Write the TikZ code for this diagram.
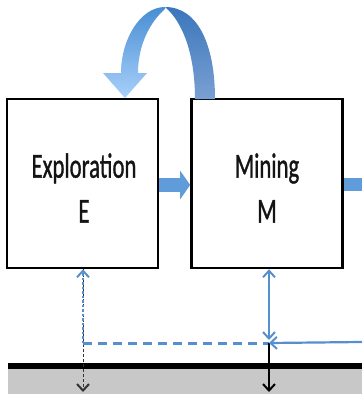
\documentclass[tikz,border=0pt]{standalone}
\usepackage{fontspec}
\setmainfont{Carlito}
\usetikzlibrary{arrows.meta}
\definecolor{flowblue}{RGB}{96,156,218}
\definecolor{lineblue}{RGB}{86,143,205}
\definecolor{groundgray}{RGB}{200,200,200}
\definecolor{txtcol}{RGB}{20,20,20}
\definecolor{loopA}{RGB}{72,142,212}
\definecolor{loopB}{RGB}{168,208,250}
\definecolor{loopC}{RGB}{58,118,188}
\definecolor{loopD}{RGB}{122,160,210}
\tikzset{
  stagebox/.style={draw=black, line width=2.6pt, fill=white,
    minimum width=151pt, minimum height=169pt, inner sep=0pt},
  stagetext/.style={align=center,
    font=\fontsize{35}{45}\selectfont\addfontfeatures{FakeBold=1.2},
    text=txtcol, inner sep=0pt},
  flowarrow/.style={line width=14pt, draw=flowblue,
    -{Triangle[length=10pt,width=28pt]}},
  bluelink/.style={draw=lineblue, line width=1.6pt},
  >={Straight Barb[length=6.5pt,width=12pt,line width=2pt]},
}
\begin{document}
\begin{tikzpicture}[x=1pt,y=-1pt]
\useasboundingbox (0,0) rectangle (362,394);

% ground surface
\fill[groundgray] (8,366) rectangle (362,394);
\draw[line width=6pt] (8,366) -- (362,366);

% stages
\node[stagebox] (E) at (82.5,183.5) {};
\node[stagebox] (M) at (267,183.5) {};
\node[stagetext] (Etxt) at (84,188) {\scalebox{0.65}[1]{Exploration}\\\scalebox{0.65}[1]{E}};
\node[stagetext] (Mtxt) at (267,188) {\scalebox{0.65}[1]{Mining}\\\scalebox{0.65}[1]{M}};

% flow between stages
\coordinate (out) at (362,184);
\draw[flowarrow] (E.east |- 0,185) -- (M.west |- 0,185);
\draw[line width=13pt, draw=flowblue] (M.east |- out) -- (out);

% feedback loop from mining back to exploration
\path[top color=loopC, bottom color=loopD]
  (215,99) .. controls (215,45) and (198,7) .. (165,7)
  .. controls (183,22) and (195,55) .. (195,99) -- cycle;
\path[top color=loopA, bottom color=loopB]
  (165,7) .. controls (140,7) and (121,40) .. (121,73)
  -- (103,73) -- (125,98) -- (147,73) -- (138,73)
  .. controls (138,45) and (150,22) .. (165,9) -- cycle;

% links with the ground
\coordinate (eJ) at (83,343);
\coordinate (mJ) at (269,343);
\coordinate (inflow) at (362,342);
\coordinate (eDown) at (83,392);
\coordinate (mDown) at (269,392);

\draw[black!80, line width=0.9pt, densely dashed, ->] (E.south -| eJ) -- (eDown);
\draw[bluelink, line width=2pt, dash pattern=on 2.5pt off 2pt, ->] (eJ) -- (E.south -| eJ);
\draw[bluelink, line width=3pt, dash pattern=on 9pt off 6pt] (eJ) -- (mJ);
\draw[bluelink, <->] (M.south -| mJ) -- ([yshift=3pt]mJ);
\draw[black, line width=1.6pt, ->] (mJ) -- (mDown);
\draw[bluelink, line width=2.2pt, ->] (inflow) -- (mJ);
\end{tikzpicture}
\end{document}
